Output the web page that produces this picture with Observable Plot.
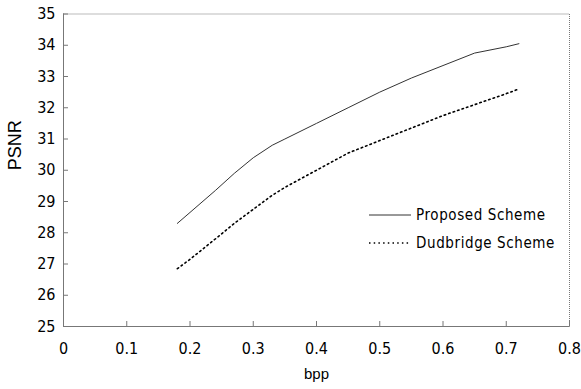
<!DOCTYPE html>
<html><head><meta charset="utf-8">
<script src="https://cdn.jsdelivr.net/npm/d3@7"></script>
<script src="https://cdn.jsdelivr.net/npm/@observablehq/plot@0.6"></script>
<style>
body{margin:0;background:#fff;}
#wrap{position:relative;width:581px;height:389px;overflow:hidden;}
#wrap svg g[aria-label$="tick label"]{font-stretch:condensed;}
#legend{position:absolute;left:369px;top:201px;font:15px "DejaVu Sans",sans-serif;font-stretch:condensed;letter-spacing:0.6px;color:#000;white-space:nowrap;}
#legend .row{display:flex;align-items:center;height:28px;}
#legend svg{margin-right:5px;}
</style></head>
<body><div id="wrap"><div id="legend"></div></div>
<script>
const bpp       = [0.18, 0.20, 0.24, 0.27, 0.30, 0.33, 0.35, 0.40, 0.45, 0.50, 0.55, 0.60, 0.65, 0.70, 0.72];
const proposed  = [28.3, 28.65, 29.35, 29.9, 30.4, 30.8, 31.0, 31.5, 32.0, 32.5, 32.95, 33.35, 33.75, 33.95, 34.05];
const dudbridge = [26.85, 27.15, 27.8, 28.3, 28.75, 29.2, 29.45, 30.0, 30.55, 30.95, 31.35, 31.75, 32.1, 32.45, 32.6];
const seriesNames = ["Proposed Scheme", "Dudbridge Scheme"];
const xTicks = [0, 0.1, 0.2, 0.3, 0.4, 0.5, 0.6, 0.7, 0.8];
const yTicks = [25, 26, 27, 28, 29, 30, 31, 32, 33, 34, 35];
const xLabel = "bpp";
const yLabel = "PSNR";

const rowsP = bpp.map((b, i) => ({bpp: b, psnr: proposed[i]}));
const rowsD = bpp.map((b, i) => ({bpp: b, psnr: dudbridge[i]}));

const tickFont = '"DejaVu Sans",sans-serif';
const regular = '"Liberation Sans",Arial,sans-serif';
const axisCol = "#777";

const chart = Plot.plot({
  width: 581, height: 389,
  marginLeft: 63, marginRight: 12, marginTop: 13.5, marginBottom: 63,
  style: {fontFamily: tickFont, fontSize: "16px", background: "#fff", color: "#000"},
  x: {domain: [0, 0.8]},
  y: {domain: [25, 35]},
  marks: [
    Plot.frame({stroke: axisCol, strokeDasharray: "1,1"}),
    Plot.ruleX([0], {stroke: axisCol}),
    Plot.ruleY([25], {stroke: axisCol}),
    Plot.axisX(xTicks, {tickSize: 5, dy: -5, tickFormat: () => "", stroke: axisCol, label: null}),
    Plot.axisY(yTicks, {tickSize: 5, dx: 5, tickFormat: () => "", stroke: axisCol, label: null}),
    Plot.axisX(xTicks, {tickSize: 0, tickPadding: 16, tickFormat: d => String(d), fill: "#000", label: null}),
    Plot.axisY(yTicks, {tickSize: 0, tickPadding: 8, tickFormat: d => String(d), fill: "#000", label: null}),
    Plot.line(rowsP, {x: "bpp", y: "psnr", stroke: "#333", strokeWidth: 1}),
    Plot.line(rowsD, {x: "bpp", y: "psnr", stroke: "#000", strokeWidth: 1.6, strokeDasharray: "1.5,3.2"}),
    Plot.text([xLabel], {text: d => d, frameAnchor: "bottom", dy: 52, fontFamily: regular, fontSize: 15, fill: "#000"}),
    Plot.text([yLabel], {text: d => d, frameAnchor: "left", dx: -48, rotate: -90, fontFamily: regular, fontSize: 18, fill: "#000"})
  ]
});
const wrap = document.getElementById("wrap");
wrap.insertBefore(chart, wrap.firstChild);

const legend = document.getElementById("legend");
const styles = [{dash: null, w: 1, c: "#333"}, {dash: "1.5,3.2", w: 1.6, c: "#000"}];
seriesNames.forEach((name, i) => {
  const row = document.createElement("div");
  row.className = "row";
  const s = styles[i];
  row.innerHTML = `<svg width="42" height="4"><line x1="0" x2="42" y1="2" y2="2" stroke="${s.c}" stroke-width="${s.w}" ${s.dash ? `stroke-dasharray="${s.dash}"` : ""}/></svg><span></span>`;
  row.querySelector("span").textContent = name;
  legend.appendChild(row);
});
</script>
</body></html>
